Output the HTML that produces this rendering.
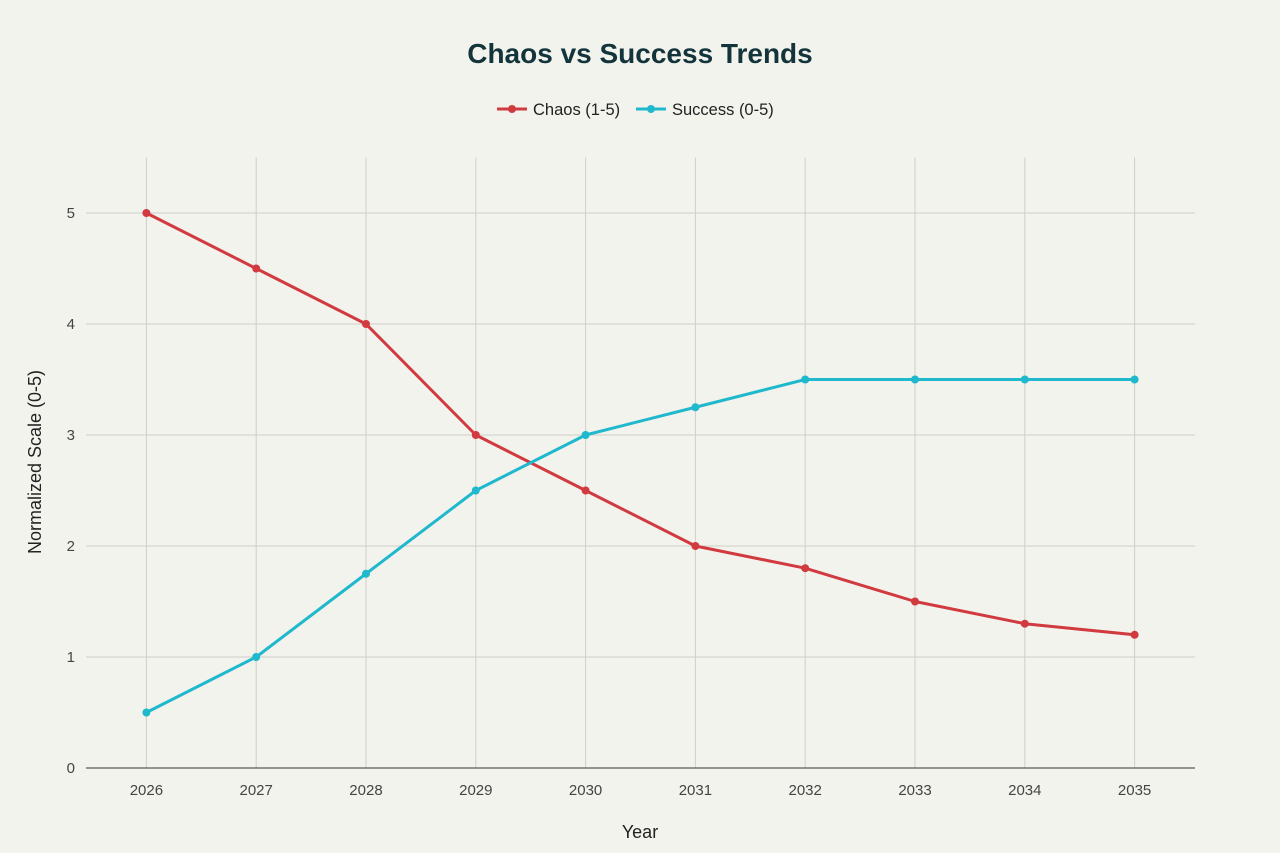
<!DOCTYPE html>
<html><head><meta charset="utf-8"><style>
body{margin:0;background:#f3f3ee;}
svg{display:block;font-family:"Liberation Sans",sans-serif;}
</style></head><body>
<svg id="chart" width="1280" height="853">
<rect width="1280" height="853" fill="#f3f3ee"/>
<text x="640" y="63" text-anchor="middle" font-size="28" font-weight="bold" fill="#13343b">Chaos vs Success Trends</text>
<g>
<g><line x1="497" y1="109" x2="527" y2="109" stroke="#d13b40" stroke-width="3"/><circle cx="512" cy="109" r="4" fill="#d13b40"/><text x="533" y="115" font-size="16.5" fill="#222">Chaos (1-5)</text></g>
<g><line x1="636" y1="109" x2="666" y2="109" stroke="#1fb8cd" stroke-width="3"/><circle cx="651" cy="109" r="4" fill="#1fb8cd"/><text x="672" y="115" font-size="16.5" fill="#222">Success (0-5)</text></g>
</g>
<g id="grid"></g><g id="axes"></g><g id="series"></g>
<text x="640" y="838" text-anchor="middle" font-size="18" fill="#222">Year</text>
<text transform="translate(41,462) rotate(-90)" text-anchor="middle" font-size="18" fill="#222">Normalized Scale (0-5)</text>
</svg>
<script>
const years=[2026,2027,2028,2029,2030,2031,2032,2033,2034,2035];
const chaos=[5,4.5,4,3,2.5,2,1.8,1.5,1.3,1.2];
const success=[0.5,1,1.75,2.5,3,3.25,3.5,3.5,3.5,3.5];
const yTicks=[0,1,2,3,4,5];
const NS='http://www.w3.org/2000/svg';
const x0=86,x1=1195,yTop=157.5,yBot=768;
function xs(v){return x0+(v-2025.45)/(10.1)*(x1-x0);}
function ys(v){return yBot-v/5.5*(yBot-yTop);}
function mk(t,a,p){const e=document.createElementNS(NS,t);for(const k in a)e.setAttribute(k,a[k]);p.appendChild(e);return e;}
const grid=document.getElementById('grid'),axes=document.getElementById('axes'),series=document.getElementById('series');
years.forEach(y=>{
 const l=mk('line',{x1:xs(y),x2:xs(y),y1:yTop,y2:yBot,stroke:'#cfcfca','stroke-width':1},grid);
 
 
 const t=mk('text',{x:xs(y),y:795,'text-anchor':'middle','font-size':15,fill:'#444'},axes);
 t.textContent=y;
 
 
});
yTicks.forEach(v=>{
 if(v>0){const l=mk('line',{x1:x0,x2:x1,y1:ys(v),y2:ys(v),stroke:'#cfcfca','stroke-width':1},grid);
 
 }
 const t=mk('text',{x:75,y:ys(v)+5,'text-anchor':'end','font-size':15,fill:'#444'},axes);
 t.textContent=v;
 
 
});
const ax=mk('line',{x1:x0,x2:x1,y1:yBot,y2:yBot,stroke:'#333','stroke-width':1},axes);


function draw(vals,color,name){
 const p=mk('polyline',{points:vals.map((v,i)=>xs(years[i])+','+ys(v)).join(' '),fill:'none',stroke:color,'stroke-width':3,'stroke-linejoin':'round'},series);
 
 
 vals.forEach((v,i)=>{
  const c=mk('circle',{cx:xs(years[i]),cy:ys(v),r:4,fill:color},series);
  
  
 });
}
draw(chaos,'#d13b40','chaos');
draw(success,'#1fb8cd','success');
</script>
</body></html>
